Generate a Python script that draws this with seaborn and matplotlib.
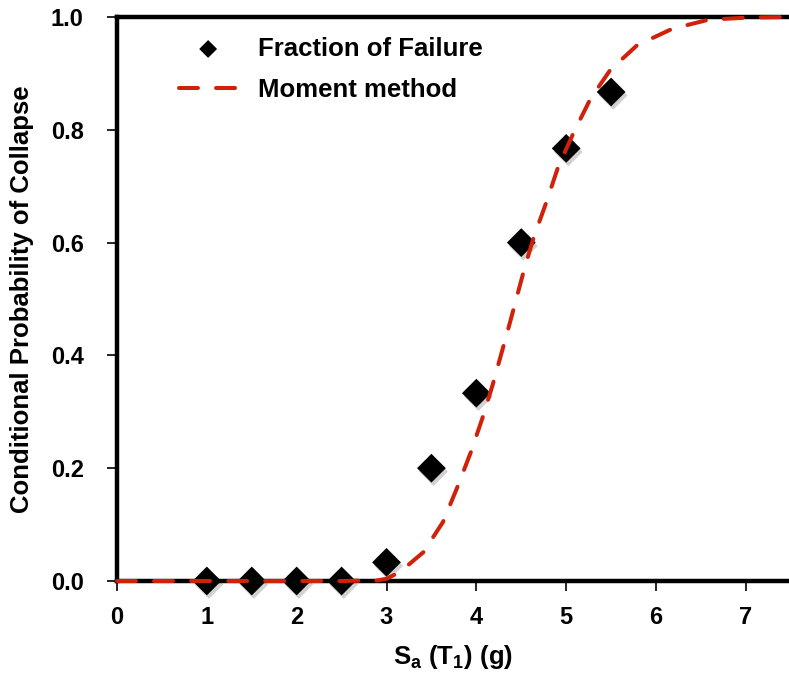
import numpy as np
import pandas as pd
import matplotlib
matplotlib.use("Agg")
import matplotlib.pyplot as plt
import matplotlib.patheffects as pe
import seaborn as sns

# ---------------------------
# Data
# ---------------------------
sa_obs = [1.0, 1.5, 2.0, 2.5, 3.0, 3.5, 4.0, 4.5, 5.0, 5.5]
frac_fail = [0.0, 0.0, 0.0, 0.0, 0.033, 0.2, 0.333, 0.6, 0.767, 0.867]

sa_fit = [0.0, 0.5, 1.0, 1.5, 2.0, 2.5, 2.9, 3.0, 3.15, 3.41, 3.63, 3.79, 3.94,
          4.07, 4.18, 4.36, 4.54, 4.64, 4.78, 4.91, 5.08, 5.27, 5.49, 5.79,
          6.18, 6.58, 7.02, 7.5]
p_fit = [0.0, 0.0, 0.0, 0.0, 0.0, 0.0, 0.001, 0.004, 0.016, 0.051, 0.105, 0.167,
         0.229, 0.29, 0.347, 0.45, 0.557, 0.61, 0.672, 0.734, 0.794, 0.855,
         0.906, 0.95, 0.979, 0.995, 0.999, 1.0]

x_ticks = [0, 1, 2, 3, 4, 5, 6, 7]
y_ticks = [0.0, 0.2, 0.4, 0.6, 0.8, 1.0]

red = "#d0210b"

sns.set_style("white")
plt.rcParams['font.family'] = ['Liberation Sans', 'DejaVu Sans']
plt.rcParams['font.weight'] = 'bold'
plt.rcParams['text.color'] = 'black'
plt.rcParams['axes.labelcolor'] = 'black'
plt.rcParams['xtick.color'] = 'black'
plt.rcParams['ytick.color'] = 'black'

fig = plt.figure(figsize=(7.89, 6.74), dpi=100)
ax = fig.add_axes([0.1483, 0.138, 0.8517, 0.8368])

obs = pd.DataFrame({"sa": sa_obs, "p": frac_fail})
fit = pd.DataFrame({"sa": sa_fit, "p": p_fit})

sns.scatterplot(data=obs, x="sa", y="p", marker="D", s=215, color="black",
                edgecolor="none", ax=ax, label="Fraction of Failure",
                zorder=4, clip_on=False)
ax.collections[-1].set_path_effects([
    pe.SimplePatchShadow(offset=(1.5, -2.5), shadow_rgbFace="black", alpha=0.18),
    pe.Normal()])

sns.lineplot(data=fit, x="sa", y="p", color=red, linewidth=2.9, ax=ax,
             label="Moment method", sort=False, estimator=None, zorder=5)
line = ax.lines[-1]
line.set_dashes((4.7, 4.5))
line.set_dash_capstyle("round")
line.set_clip_on(False)

ax.set_xlim(0, 7.48)
ax.set_ylim(0, 1.0)
ax.set_xticks(x_ticks)
ax.set_yticks(y_ticks)
ax.set_yticklabels([f"{v:.1f}" for v in y_ticks], fontsize=17, fontweight="bold")
ax.set_xticklabels([str(v) for v in x_ticks], fontsize=17, fontweight="bold")

ax.spines["right"].set_visible(False)
for s in ["left", "bottom", "top"]:
    ax.spines[s].set_linewidth(3.2)
    ax.spines[s].set_color("black")
ax.tick_params(axis="both", direction="out", length=7, width=1.2, color="black")
ax.tick_params(axis="x", pad=11)
ax.tick_params(axis="y", pad=17)
ax.xaxis.set_ticks_position("bottom")
ax.yaxis.set_ticks_position("left")

ax.set_xlabel("S$_\\mathregular{a}$ (T$_\\mathregular{1}$) (g)", fontsize=18.5,
              fontweight="bold", labelpad=10)
ax.set_ylabel("Conditional Probability of Collapse", fontsize=18.5,
              fontweight="bold", labelpad=12)

handles, labels = ax.get_legend_handles_labels()
leg = ax.legend(handles, labels, loc="upper left", frameon=False,
                prop={"size": 18.5, "weight": "bold"}, markerscale=0.62,
                handlelength=2.26, handletextpad=0.82, labelspacing=0.67,
                bbox_to_anchor=(0.058, 1.006))
for h in leg.legend_handles:
    h.set_path_effects([])

fig.savefig("out.png", dpi=100)
